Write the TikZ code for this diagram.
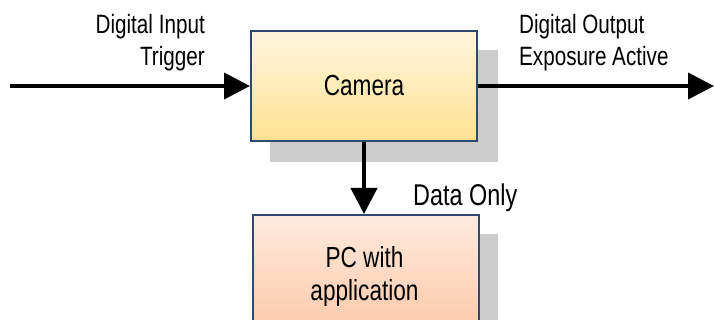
\documentclass[tikz,border=0pt]{standalone}
\usepackage{fontspec}
\setmainfont{Liberation Sans}[FakeStretch=0.78]
\usetikzlibrary{arrows.meta}
\definecolor{boxborder}{HTML}{2E4A6E}
\definecolor{shadowgray}{HTML}{CCCCCC}
\definecolor{camtop}{HTML}{FFF4DF}
\definecolor{cambot}{HTML}{FFE391}
\definecolor{pctop}{HTML}{FFEADF}
\definecolor{pcbot}{HTML}{FBC5A2}
\tikzset{
  arr/.style={line width=4pt, -{Triangle[length=26pt,width=26pt]}},
  boxstyle/.style={draw=boxborder, line width=2pt, rectangle, inner sep=0pt},
  lbl/.style={inner sep=0pt, font=\fontsize{26.5}{32}\selectfont},
}
\begin{document}
\begin{tikzpicture}[x=1pt,y=-1pt]
\useasboundingbox (0,0) rectangle (714,320);
\begin{scope}
\clip (0,0) rectangle (714,320);
% shadows
\fill[shadowgray] (270,50) rectangle (498,162);
\fill[shadowgray] (272,234) rectangle (498,340);
% camera box
\node[boxstyle, top color=camtop, bottom color=cambot, minimum width=226pt, minimum height=110pt, anchor=north west,
      font=\fontsize{29}{34}\selectfont] (cam) at (250,30) {Camera};
% pc box
\node[boxstyle, top color=pctop, bottom color=pcbot, minimum width=226pt, minimum height=130pt, anchor=north west] (pcbox) at (252,214) {};
\node[inner sep=0pt, align=center, font=\fontsize{29}{33}\selectfont, anchor=north] (pctext) at (364.5,246) {PC with\\application};
\end{scope}
% connectors
\coordinate (inStart) at (10,86);
\coordinate (outEnd) at (714,86);
\draw[arr] (inStart) -- (cam.west);
\draw[arr] (cam.east) -- (outEnd);
\draw[arr] (cam.south) -- (cam.south |- pcbox.north);
% labels
\node[lbl, align=right, anchor=north east] (inlbl) at (205,14) {Digital Input\\Trigger};
\node[lbl, align=left, anchor=north west] (outlbl) at (519,14) {Digital Output\\Exposure Active};
\node[inner sep=0pt, anchor=north west, font=\fontsize{30}{34}\selectfont] (datalbl) at (413,184) {Data Only};
\end{tikzpicture}
\end{document}
